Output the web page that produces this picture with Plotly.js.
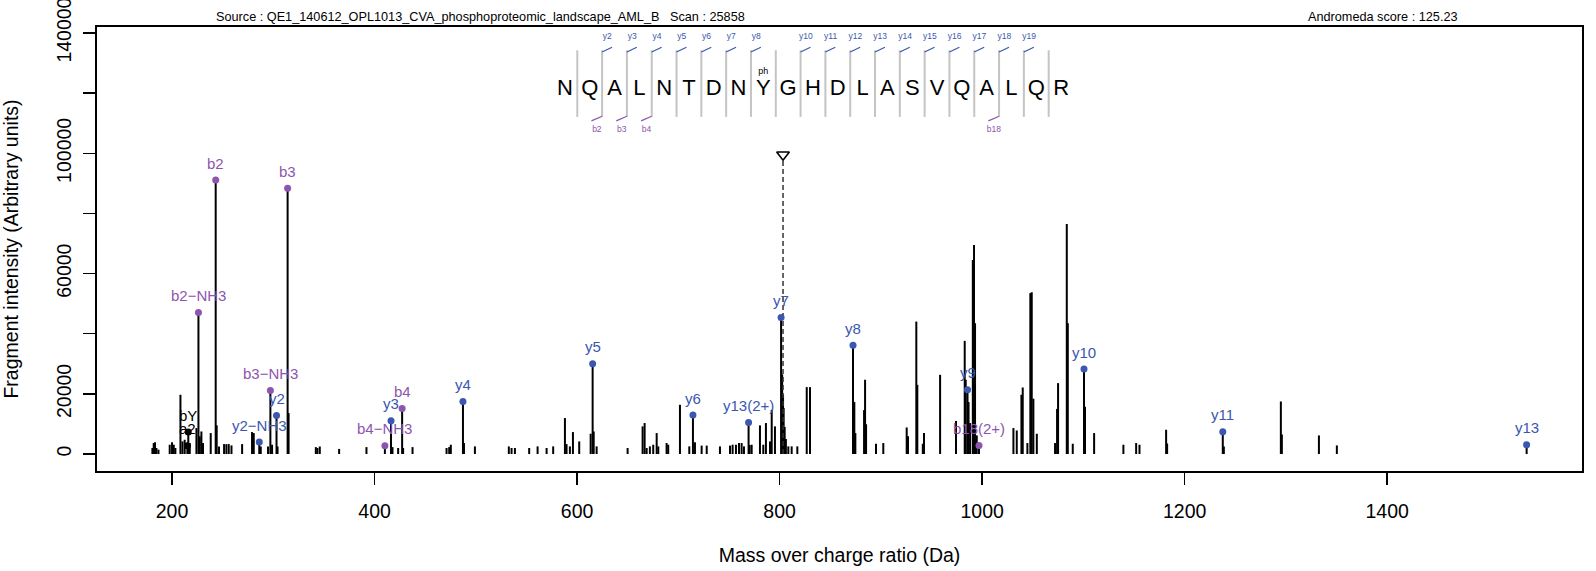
<!DOCTYPE html>
<html><head><meta charset="utf-8">
<script src="https://cdn.plot.ly/plotly-3.0.1.min.js"></script>
<style>html,body{margin:0;padding:0;background:#fff}#chart{width:1596px;height:571px}</style>
</head><body><div id="chart"></div>
<script>
const FONT = 'Liberation Sans, Arial, Helvetica, sans-serif';
const BLUE = '#3B57AF', PURPLE = '#8E55AE', GRAY = '#C4C4C4';

// ---- unannotated fragment peaks (m/z, intensity) ----
const peakMz = [180.6,181.9,183.2,184.6,186.6,197.7,200.0,201.7,203.3,208.3,210.3,212.5,217.5,224.1,227.4,229.0,230.6,238.2,244.1,246.4,
  251.4,253.7,256.0,258.7,269.2,279.0,280.7,287.6,294.8,298.8,304.2,315.1,342.0,343.6,345.9,365.0,392.0,417.7,423.3,428.2,
  437.5,471.1,473.7,475.3,488.3,499.1,532.6,535.3,538.6,552.7,561.0,569.9,576.4,588.0,589.6,592.9,595.9,602.1,613.4,616.4,
  619.3,649.9,664.7,666.7,668.7,671.9,675.2,678.6,680.2,688.4,690.0,701.6,710.8,716.4,723.0,728.0,741.1,751.0,753.6,756.9,
  759.9,762.5,764.8,770.4,772.4,780.6,783.9,786.5,790.5,792.2,795.4,802.5,803.4,804.0,805.0,806.2,808.6,811.9,817.5,826.8,
  830.0,873.8,874.8,883.4,884.4,885.4,895.2,902.4,925.5,926.8,935.0,936.0,941.4,942.6,958.5,974.2,982.8,983.8,986.6,988.1,
  990.8,992.0,993.0,994.7,1030.9,1034.2,1038.8,1040.1,1044.7,1047.6,1049.0,1050.6,1054.0,1072.0,1074.0,1075.0,1083.6,1084.6,1089.5,1101.6,
  1110.6,1139.5,1152.1,1155.4,1181.7,1182.7,1238.7,1295.0,1296.0,1332.6,1350.3];
const peakInt = [2000,3650,3900,2000,1450,3090,3900,3090,2000,19700,4200,4750,3650,8630,5890,7500,3650,6970,9530,2500,
  3300,3300,3300,2860,3300,7300,6970,2500,2500,3090,2500,13600,2300,2000,2500,1700,2300,2300,2000,2000,
  2300,2000,2300,3090,3650,2540,2540,2000,2000,2000,2540,2000,2540,11960,3300,2540,7300,4190,6740,7500,
  2540,2000,9190,10300,2000,2540,3090,6970,2540,3650,3090,16370,2540,3900,2800,2800,2540,2800,3090,3090,
  3650,3650,2540,3000,3090,9530,3090,10300,4190,14710,9190,26500,19700,15280,9000,5000,2540,2540,2540,22250,
  22250,17270,6970,14600,24700,9900,3420,3650,8830,5900,44040,23000,3420,6970,26340,11000,37630,24700,17270,10300,
  64500,69510,43500,6200,8630,7840,19700,22120,3650,53500,53800,18400,6740,3650,15000,23580,76490,43500,3420,15700,
  6970,3090,3650,3090,8070,3500,2500,17470,6500,6180,2860];

// ---- annotated ions ----
const ionLabel  = ['a2','bY','b2\u2212NH3','b2','y2\u2212NH3','b3\u2212NH3','y2','b3','b4\u2212NH3','y3','b4','y4','y5','y6','y13(2+)','y7','y8','y9','b18(2+)','y10','y11','y13'];
const ionMz     = [215.11,216.04,226.08,243.11,286.15,297.12,303.18,314.15,410.20,416.26,427.23,487.30,615.36,714.43,769.36,801.46,872.49,985.58,996.93,1100.61,1237.66,1537.72];
const ionInt    = [2760,7300,47030,91100,3990,21120,12820,88340,2760,11060,15150,17470,29990,12950,10500,45370,36200,21350,2860,28230,7400,3090];
const ionSeries = ['o','o','b','b','y','b','y','b','b','y','b','y','y','y','y','y','y','y','b','y','y','y'];

// ---- precursor ----
const precursorMz = 803.37;
const precursorMark = 99500;
const precursorLineTop = 97500;

// ---- peptide sequence diagram ----
const sequence = ['N','Q','A','L','N','T','D','N','Y','G','H','D','L','A','S','V','Q','A','L','Q','R'];
const modSite = 9, modLabel = 'ph';
const yIonSites = [2,3,4,5,6,7,8,10,11,12,13,14,15,16,17,18,19];
const bIonSites = [2,3,4,18];

// ---- texts / ticks ----
const sourceText = 'Source : QE1_140612_OPL1013_CVA_phosphoproteomic_landscape_AML_B   Scan : 25858';
const scoreText = 'Andromeda score : 125.23';
const xTickVals = [200,400,600,800,1000,1200,1400];
const yTickVals = [0,20000,40000,60000,80000,100000,120000,140000];
const yTickText = ['0','20000','','60000','','100000','','140000'];
const xTitle = 'Mass over charge ratio (Da)';
const yTitle = 'Fragment intensity (Arbitrary units)';

const colorOf = s => s === 'b' ? PURPLE : (s === 'y' ? BLUE : '#000000');

// stick lines
const allMz = peakMz.concat(ionMz), allInt = peakInt.concat(ionInt);
const sx = [], sy = [];
allMz.forEach((m, i) => { sx.push(m, m, null); sy.push(0, allInt[i], null); });

const traces = [];
traces.push({type:'scatter', mode:'lines', x:sx, y:sy, line:{color:'#000', width:2}, hoverinfo:'skip', showlegend:false});
traces.push({type:'scatter', mode:'lines', x:[precursorMz, precursorMz], y:[0, precursorLineTop],
  line:{color:'#333', width:1.5, dash:'5px,3px'}, hoverinfo:'skip', showlegend:false});
traces.push({type:'scatter', mode:'markers', x:[precursorMz], y:[precursorMark],
  marker:{symbol:'triangle-down-open', size:11, color:'#000', line:{width:1.6, color:'#000'}}, hoverinfo:'skip', showlegend:false});
traces.push({type:'scatter', mode:'markers', x:ionMz, y:ionInt,
  marker:{size:7, color:ionSeries.map(colorOf)}, hoverinfo:'skip', showlegend:false});

// sequence diagram on overlay axes (x2 = residue index, y2 = vertical layout units)
const SEP_TOP = 50, SEP_BOT = 116.7, LETTER_Y = 89.5;
const gx = [], gy = [];
for (let k = 1; k < sequence.length; k++) { gx.push(k + 0.5, k + 0.5, null); gy.push(SEP_TOP, SEP_BOT, null); }
traces.push({type:'scatter', mode:'lines', x:gx, y:gy, xaxis:'x2', yaxis:'y2', line:{color:GRAY, width:2}, hoverinfo:'skip', showlegend:false});
const yx = [], yy = [];
yIonSites.forEach(k => { yx.push(k + 0.5, k + 0.9, null); yy.push(51.7, 47, null); });
traces.push({type:'scatter', mode:'lines', x:yx, y:yy, xaxis:'x2', yaxis:'y2', line:{color:BLUE, width:1.2}, hoverinfo:'skip', showlegend:false});
const bx = [], by = [];
bIonSites.forEach(k => { bx.push(k + 0.5, k + 0.07, null); by.push(116, 120.7, null); });
traces.push({type:'scatter', mode:'lines', x:bx, y:by, xaxis:'x2', yaxis:'y2', line:{color:PURPLE, width:1.2}, hoverinfo:'skip', showlegend:false});
traces.push({type:'scatter', mode:'text', x:sequence.map((_, i) => i + 1), y:sequence.map(() => LETTER_Y), text:sequence,
  textposition:'middle center', textfont:{family:FONT, size:22, color:'#000'}, xaxis:'x2', yaxis:'y2', hoverinfo:'skip', showlegend:false, cliponaxis:false});
traces.push({type:'scatter', mode:'text', x:yIonSites.map(k => k + 0.71), y:yIonSites.map(() => 36.7), text:yIonSites.map(k => 'y' + k),
  textposition:'middle center', textfont:{family:FONT, size:8.5, color:BLUE}, xaxis:'x2', yaxis:'y2', hoverinfo:'skip', showlegend:false, cliponaxis:false});
traces.push({type:'scatter', mode:'text', x:bIonSites.map(k => k + 0.29), y:bIonSites.map(() => 129.3), text:bIonSites.map(k => 'b' + k),
  textposition:'middle center', textfont:{family:FONT, size:8.5, color:PURPLE}, xaxis:'x2', yaxis:'y2', hoverinfo:'skip', showlegend:false, cliponaxis:false});
traces.push({type:'scatter', mode:'text', x:[modSite], y:[71.7], text:[modLabel],
  textposition:'middle center', textfont:{family:FONT, size:9, color:'#000'}, xaxis:'x2', yaxis:'y2', hoverinfo:'skip', showlegend:false, cliponaxis:false});

const annotations = ionLabel.map((t, i) => ({
  x: ionMz[i], y: ionInt[i], xref:'x', yref:'y', text:t, showarrow:false, yshift:17,
  xanchor:'center', yanchor:'middle', font:{family:FONT, size:15, color:colorOf(ionSeries[i])}
}));
annotations.push({xref:'paper', yref:'paper', x:(481 - 97.3) / 1484.4, y:1 + (27 - 16.7) / 444, text:sourceText, showarrow:false,
  xanchor:'center', yanchor:'middle', font:{family:FONT, size:12.7, color:'#000'}});
annotations.push({xref:'paper', yref:'paper', x:(1383 - 97.3) / 1484.4, y:1 + (27 - 16.7) / 444, text:scoreText, showarrow:false,
  xanchor:'center', yanchor:'middle', font:{family:FONT, size:12.7, color:'#000'}});

const axisCommon = {showgrid:false, zeroline:false, showline:true, mirror:true, linecolor:'#000', linewidth:1.8,
  ticks:'outside', ticklen:12, tickwidth:1.5, tickcolor:'#000', tickfont:{family:FONT, size:19.5, color:'#000'},
  ticklabeloverflow:'allow'};

const layout = {
  width:1596, height:571, margin:{l:97, r:14, t:27, b:100}, paper_bgcolor:'#fff', plot_bgcolor:'#fff',
  font:{family:FONT, color:'#000'}, showlegend:false,
  xaxis: Object.assign({}, axisCommon, {range:[125.9, 1592.4], tickmode:'array', tickvals:xTickVals, ticklabelstandoff:10,
    title:{text:xTitle, font:{family:FONT, size:19.5, color:'#000'}, standoff:27}}),
  yaxis: Object.assign({}, axisCommon, {range:[-5646, 141993], tickmode:'array', tickvals:yTickVals, ticktext:yTickText,
    tickangle:-90, ticklabelstandoff:4, title:{text:yTitle, font:{family:FONT, size:19.5, color:'#000'}, standoff:35}}),
  xaxis2: {overlaying:'x', range:[1 - (565 - 97.3) / 24.8, 1 + (1581.7 - 565) / 24.8], visible:false, fixedrange:true},
  yaxis2: {overlaying:'y', range:[471.3, 26.7], visible:false, fixedrange:true},
  annotations: annotations
};

Plotly.newPlot('chart', traces, layout, {staticPlot:true, displayModeBar:false});
</script></body></html>
